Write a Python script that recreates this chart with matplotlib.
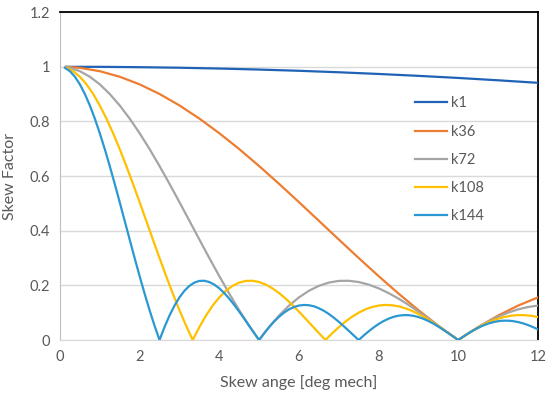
import numpy as np
import matplotlib
matplotlib.use('Agg')
import matplotlib.pyplot as plt

# -------------------------------------------------------------------------------------
# Data (skew factor, samples every 9 deg of harmonic angle)
sinc_9deg = [
    1.0000, 0.9959, 0.9836, 0.9634, 0.9355, 0.9003, 0.8584, 0.8103, 0.7568, 0.6987,
    0.6366, 0.5716, 0.5046, 0.4363, 0.3679, 0.3001, 0.2339, 0.1700, 0.1093, 0.0524,
    0.0000, 0.0474, 0.0894, 0.1257, 0.1559, 0.1801, 0.1981, 0.2101, 0.2162, 0.2168,
    0.2122, 0.2028, 0.1892, 0.1719, 0.1515, 0.1286, 0.1039, 0.0781, 0.0518, 0.0255,
    0.0000, 0.0243, 0.0468, 0.0672, 0.0850, 0.1000, 0.1120, 0.1207, 0.1261, 0.1283,
    0.1273, 0.1233, 0.1164, 0.1070, 0.0954, 0.0818, 0.0668, 0.0507, 0.0339, 0.0169,
    0.0000, 0.0163, 0.0317, 0.0459, 0.0585, 0.0693, 0.0780, 0.0847, 0.0890, 0.0911,
    0.0909, 0.0886, 0.0841, 0.0777, 0.0696, 0.0600, 0.0492, 0.0375, 0.0252, 0.0126,
    0.0000, 0.0123, 0.0240, 0.0348, 0.0445, 0.0530, 0.0599, 0.0652, 0.0688, 0.0707,
    0.0707, 0.0691, 0.0658, 0.0610, 0.0548, 0.0474, 0.0390,
]

k1_x = [0.15, 1, 2, 3, 4, 5, 6, 7, 8, 9, 10, 11, 12]
k1_y = [0.9996, 0.9996, 0.9983, 0.9963, 0.9933, 0.9896, 0.9851, 0.9797, 0.9735,
        0.9666, 0.9589, 0.9503, 0.9411]

k36_x = [0.15] + list(np.arange(1, 25) * 0.5)
k36_y = [0.9998] + sinc_9deg[1:25]

k72_x = [0.15] + list(np.arange(1, 49) * 0.25)
k72_y = [0.9985] + sinc_9deg[1:49]

k108_x = list(np.arange(1, 73) / 6.0)
k108_y = sinc_9deg[1:73]

k144_x = list(np.arange(1, 97) * 0.125)
k144_y = sinc_9deg[1:97]

series_names = ['k1', 'k36', 'k72', 'k108', 'k144']
series_colors = ['#2063B6', '#ED7D31', '#A5A5A5', '#FFC000', '#2B98D2']
# -------------------------------------------------------------------------------------


# -------------------------------------------------------------------------------------
# Figure
plt.rcParams['font.family'] = ['Lato', 'DejaVu Sans']

fig = plt.figure(figsize=(5.5, 3.98), dpi=100)
ax = fig.add_axes([0.109, 0.1457, 0.869, 0.824])

series_data = [(k1_x, k1_y), (k36_x, k36_y), (k72_x, k72_y), (k108_x, k108_y), (k144_x, k144_y)]
for (sx, sy), name, color in zip(series_data, series_names, series_colors):
    ax.plot(sx, sy, color=color, linewidth=1.6, label=name, zorder=3)

ax.set_xlim(0, 12)
ax.set_ylim(0, 1.2)
ax.set_xticks([0, 2, 4, 6, 8, 10, 12])
ax.set_yticks([0, 0.2, 0.4, 0.6, 0.8, 1.0, 1.2])
ax.set_yticklabels(['0', '0.2', '0.4', '0.6', '0.8', '1', '1.2'])

ax.grid(axis='y', color='#D9D9D9', linewidth=1.0, zorder=0)
ax.set_axisbelow(True)

ax.spines['top'].set_color('black')
ax.spines['top'].set_linewidth(1.3)
ax.spines['right'].set_color('black')
ax.spines['right'].set_linewidth(1.3)
ax.spines['left'].set_color('#BFBFBF')
ax.spines['bottom'].set_color('#D9D9D9')

ax.tick_params(axis='both', length=0, labelsize=10.5, labelcolor='#595959', pad=7)

ax.set_xlabel('Skew ange [deg mech]', fontsize=11.5, color='#595959', labelpad=8)
ax.set_ylabel('Skew Factor', fontsize=11.5, color='#595959', labelpad=9)

ax.legend(loc='upper left', bbox_to_anchor=(0.7545, 0.758), bbox_transform=fig.transFigure,
          frameon=False, fontsize=10.5, labelcolor='#595959', borderpad=0, borderaxespad=0,
          handlelength=2.2, labelspacing=0.98, handletextpad=0.3)

fig.savefig('out.png', dpi=100)
plt.close()
# -------------------------------------------------------------------------------------
